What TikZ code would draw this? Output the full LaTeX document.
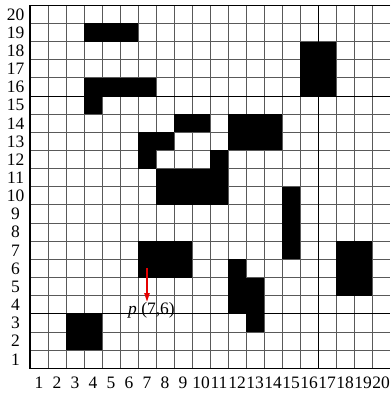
\documentclass[tikz,border=0pt]{standalone}
\usepackage{fontspec}
\setmainfont{Liberation Serif}
\usetikzlibrary{arrows.meta}

\begin{document}
\begin{tikzpicture}[
    x=0.5cm, y=0.5042cm,
    every node/.style={font=\fontsize{13.8}{15}\selectfont, inner sep=0pt},
    gridline/.style={draw=black!65, line width=0.75pt},
    darkline/.style={draw=black, line width=0.8pt},
    frame/.style={draw=black, line width=1pt},
    blocked/.style={fill=black},
    arr/.style={-{Triangle[length=7pt, width=4pt]}, draw=red!90!black, line width=1.4pt},
]
\useasboundingbox (-1.667,-1.36) rectangle (20.056,20.29);

% ── Grid ─────────────────────────────────────────────────────────────────────
\foreach \k in {1,...,19} {
    \draw[gridline] (\k,0) -- (\k,20);
    \draw[gridline] (0,\k) -- (20,\k);
}
\draw[darkline] (0,3) -- (20,3);
\draw[darkline] (0,15) -- (20,15);
\draw[darkline] (16,0) -- (16,20);
\draw[frame] (20,20) -- (0,20) -- (0,0) -- (20,0);

% ── Obstacles ────────────────────────────────────────────────────────────────
\fill[blocked] (3,18) rectangle (6,19);
\fill[blocked] (3,15) rectangle (7,16);
\fill[blocked] (3,14) rectangle (4,15);
\fill[blocked] (8,13) rectangle (10,14);
\fill[blocked] (11,12) rectangle (14,14);
\fill[blocked] (6,12) rectangle (8,13);
\fill[blocked] (6,11) rectangle (7,12);
\fill[blocked] (10,11) rectangle (11,12);
\fill[blocked] (7,9) rectangle (11,11);
\fill[blocked] (15,15) rectangle (17,18);
\fill[blocked] (14,6) rectangle (15,10);
\fill[blocked] (6,5) rectangle (9,7);
\fill[blocked] (11,3) rectangle (12,6);
\fill[blocked] (12,2) rectangle (13,5);
\fill[blocked] (17,4) rectangle (19,7);
\fill[blocked] (2,1) rectangle (4,3);

% ── Axis numbers ─────────────────────────────────────────────────────────────
\foreach \i in {1,...,20} {
    \node (row\i) at (-0.8,\i-0.5) {\i};
    \node (col\i) at (\i-0.5,-0.82) {\i};
}

% ── Point p ──────────────────────────────────────────────────────────────────
\coordinate (pstart) at (6.5,5.53);
\node (plabel) at (6.75,3.2) {\textit{p} (7,6)};
\draw[arr] (pstart) -- (pstart |- plabel.north);

\end{tikzpicture}
\end{document}
